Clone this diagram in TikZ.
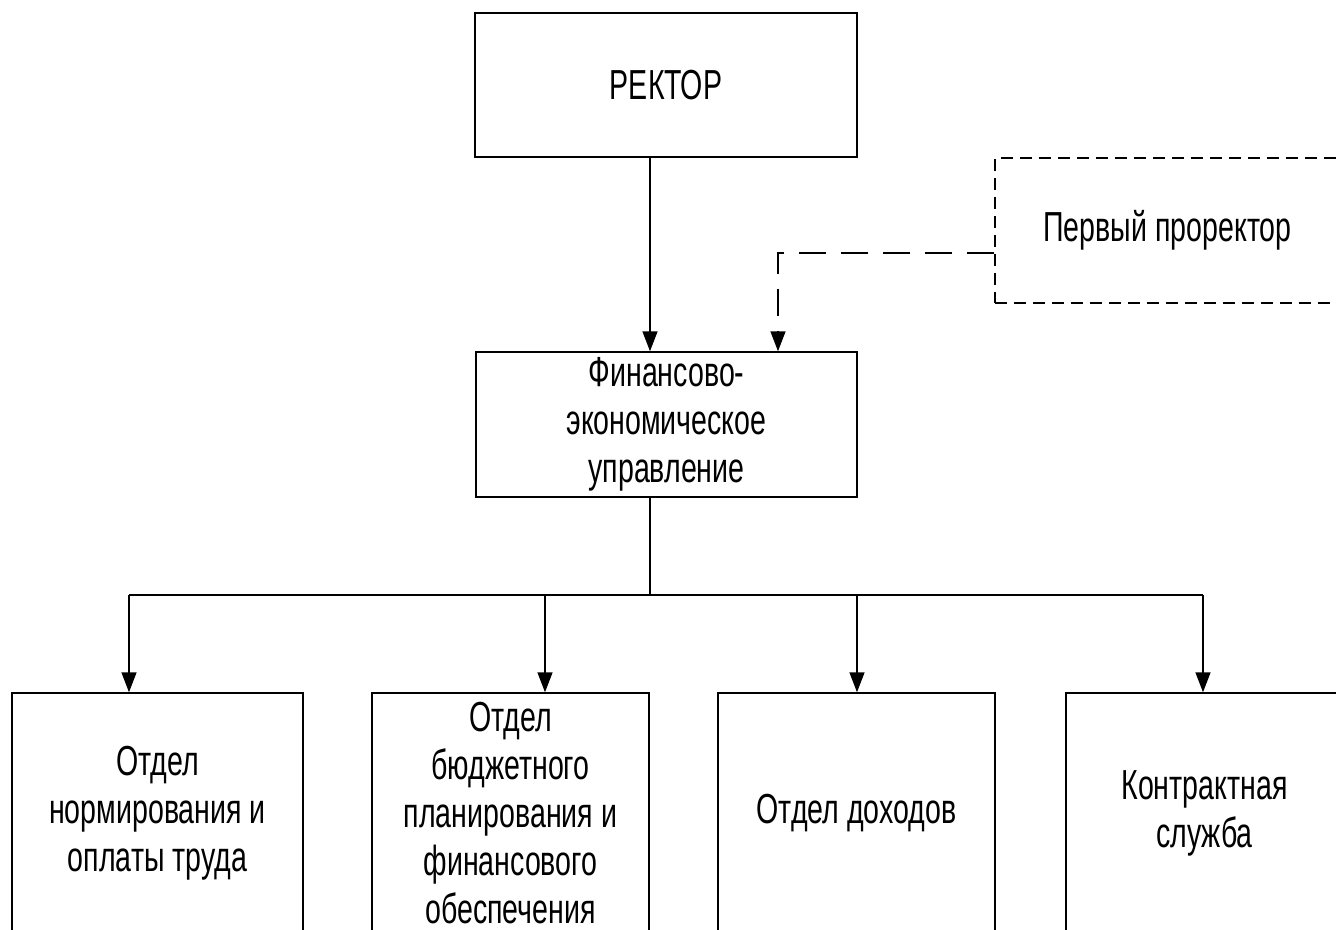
\documentclass[tikz,border=0pt]{standalone}
\usepackage{fontspec}
\setmainfont[FakeStretch=0.68]{Liberation Sans}
\usepackage{tikz}
\usetikzlibrary{arrows.meta}

\tikzset{
  unit/.style={draw, line width=0.03cm, inner sep=0pt, align=center,
    font=\fontsize{23.9pt}{27.3pt}\selectfont},
  dunit/.style={unit, dash pattern=on 0.24cm off 0.14cm},
  arr/.style={line width=0.03cm, -{Triangle[width=0.3cm,length=0.4cm]}},
}

\begin{document}
\begin{tikzpicture}[x=0.02cm,y=-0.02cm]
  \useasboundingbox (0,0) rectangle (1336,930);
  % top level
  \node[unit, minimum width=7.64cm, minimum height=2.88cm] (rector) at (666,85) {РЕКТОР};
  \node[dunit, minimum width=6.9cm, minimum height=2.9cm] (prorector) at (1167.5,230.5) {Первый проректор};
  \node[unit, minimum width=7.62cm, minimum height=2.9cm] (feu) at (666.5,424.5) {Финансово-\\экономическое\\управление};
  % departments
  \node[unit, minimum width=5.82cm, minimum height=4.8cm] (otd1) at (157.5,813) {Отдел\\нормирования и\\оплаты труда};
  \node[unit, minimum width=5.54cm, minimum height=4.8cm] (otd2) at (510.5,813) {Отдел\\бюджетного\\планирования и\\финансового\\обеспечения};
  \node[unit, minimum width=5.54cm, minimum height=4.8cm] (otd3) at (856.5,813) {Отдел доходов};
  \node[unit, minimum width=5.54cm, minimum height=4.8cm] (otd4) at (1204.5,813) {Контрактная\\служба};

  \coordinate (trunk) at (650,0);
  \coordinate (bus) at (0,595);
  \coordinate (side) at (778,253);
  \draw[arr] (rector.south -| trunk) -- (feu.north -| trunk);
  \draw[arr, dash pattern=on 0.54cm off 0.3cm] (prorector.west |- side) -- (side) -- (feu.north -| side);
  \draw[line width=0.03cm] (feu.south -| trunk) -- (bus -| trunk);
  \draw[line width=0.03cm] (129,595) -- (1203,595);
  \foreach \b/\x in {otd1/129, otd2/545, otd3/857, otd4/1203}
    \draw[arr] (\x,595) -- (\b.north -| \x,0);
\end{tikzpicture}
\end{document}
